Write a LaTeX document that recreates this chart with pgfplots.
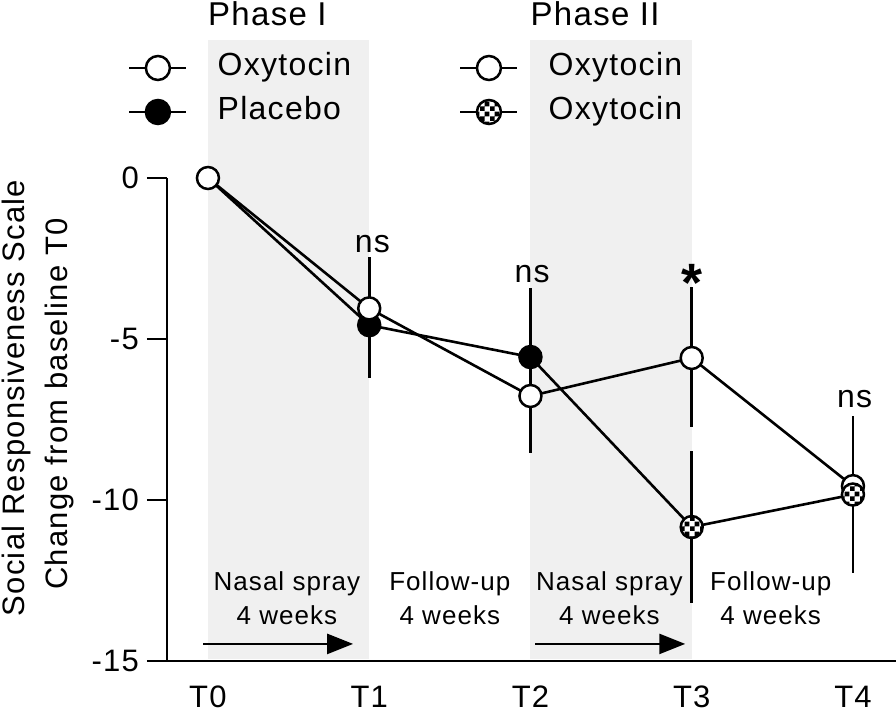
\documentclass[border=0pt]{standalone}
\usepackage{fontspec}
\setmainfont{Liberation Sans}[LetterSpace=4]
\usepackage{pgfplots}
\usepackage{pgfplotstable}
\pgfplotsset{compat=1.18}
\usetikzlibrary{patterns,arrows.meta}

\definecolor{bandgray}{RGB}{240,240,240}

\pgfdeclarepatternformonly{mycheck}{\pgfpointorigin}{\pgfqpoint{10bp}{10bp}}{\pgfqpoint{10bp}{10bp}}{%
  \pgfpathrectangle{\pgfpointorigin}{\pgfqpoint{5bp}{5bp}}%
  \pgfpathrectangle{\pgfqpoint{5bp}{5bp}}{\pgfqpoint{5bp}{5bp}}%
  \pgfusepath{fill}%
}
\pgfdeclareplotmark{checkcirc}{%
  \pgfpathcircle{\pgfpointorigin}{\pgfplotmarksize}%
  \pgfsetfillcolor{white}\pgfusepathqfill
  \pgfpathcircle{\pgfpointorigin}{\pgfplotmarksize}%
  \pgfsetfillpattern{mycheck}{black}\pgfusepathqfill
  \pgfpathcircle{\pgfpointorigin}{\pgfplotmarksize}%
  \pgfusepathqstroke
}

\pgfplotstableread{
x y ep em
0 0 0 0
1 -4.05 1.6 1.6
2 -6.77 1.77 1.77
3 -5.59 2.2 2.14
4 -9.57 2.14 2.14
}\oxy
\pgfplotstableread{
x y ep em
0 0 0 0
1 -4.57 1.63 1.63
2 -5.56 2.14 2.14
3 -10.84 2.35 2.35
4 -9.83 2.45 2.45
}\plac

\newcommand{\fs}[1]{\fontsize{#1}{1.2\dimexpr#1\relax}\selectfont}

\begin{document}
\begin{tikzpicture}
\useasboundingbox (0,0) rectangle (896bp,721bp);
\begin{axis}[
  at={(167bp,60bp)}, anchor=south west,
  x=161.25bp, y=32.2bp,
  xmin=-0.254, xmax=4.27, ymin=-15, ymax=0,
  clip=false,
  axis lines=left,
  axis line style={-, line width=2.8bp},
  xtick={0,1,2,3,4},
  xticklabels={T0,T1,T2,T3,T4},
  ytick={-15,-10,-5,0},
  yticklabels={-15,-10,-5,0},
  xtick style={draw=none},
  ytick style={line width=2.8bp, black},
  major tick length=20bp,
  tick align=outside,
  xticklabel style={font=\fs{31bp}, anchor=base, yshift=-27bp},
  yticklabel style={font=\fs{31bp}, inner sep=0pt, anchor=east, xshift=-8bp},
  legend image code/.code={\draw[mark repeat=2,mark phase=2] plot coordinates {(0bp,0bp)(28.5bp,0bp)(57bp,0bp)};},
  legend columns=2,
  legend cell align=left,
  legend style={draw=none, fill=none, at={(axis cs:-0.515,3.95)}, anchor=north west,
    row sep=14bp, font=\fs{32bp},
    nodes={inner xsep=0pt, inner ysep=0pt, text height=23bp, text depth=7bp},
    /tikz/every odd column/.append style={column sep=30bp},
    /tikz/every even column/.append style={column sep=108bp}},
]
% shaded phases
\addplot[fill=bandgray, draw=none, forget plot] coordinates {(0,-14.95) (0,4.29) (1,4.29) (1,-14.95)} -- cycle;
\addplot[fill=bandgray, draw=none, forget plot] coordinates {(2,-14.95) (2,4.29) (3,4.29) (3,-14.95)} -- cycle;

% error bars
\addplot[black, line width=2.6bp, only marks, mark=none, forget plot, restrict x to domain=1:4,
  error bars/.cd, y dir=both, y explicit, error mark=none, error bar style={line width=2.6bp, black}]
  table[x=x, y=y, y error plus=ep, y error minus=em] {\oxy};
\addplot[black, line width=2.6bp, only marks, mark=none, forget plot, restrict x to domain=1:4,
  error bars/.cd, y dir=both, y explicit, error mark=none, error bar style={line width=2.6bp, black}]
  table[x=x, y=y, y error plus=ep, y error minus=em] {\plac};

% lines
\addplot[black, line width=2.6bp, mark=none, forget plot] table[x=x, y=y] {\oxy};
\addplot[black, line width=2.6bp, mark=none, forget plot] table[x=x, y=y] {\plac};

% markers
\addplot[black, only marks, mark=*, mark size=11bp, mark options={fill=black, line width=2.5bp}, forget plot, restrict x to domain=1:2] table[x=x, y=y] {\plac};
\addplot[black, only marks, mark=*, mark size=11bp, mark options={fill=white, line width=2.5bp}, forget plot] table[x=x, y=y] {\oxy};
\addplot[black, only marks, mark=checkcirc, mark size=11bp, mark options={line width=2.5bp}, forget plot, restrict x to domain=3:4] table[x=x, y=y] {\plac};

% legend
\addlegendimage{black, line width=2.6bp, mark=*, mark size=12bp, mark options={fill=white, line width=2.5bp}}
\addlegendentry{Oxytocin}
\addlegendimage{black, line width=2.6bp, mark=*, mark size=12bp, mark options={fill=white, line width=2.5bp}}
\addlegendentry{Oxytocin}
\addlegendimage{black, line width=2.6bp, mark=*, mark size=12bp, mark options={fill=black, line width=2.5bp}}
\addlegendentry{Placebo}
\addlegendimage{black, line width=2.6bp, mark=checkcirc, mark size=12bp, mark options={line width=2.5bp}}
\addlegendentry{Oxytocin}

% phase titles
\node[anchor=base west, font=\fs{33bp}, inner sep=0pt] at (axis cs:0,4.75) {Phase I};
\node[anchor=base west, font=\fs{33bp}, inner sep=0pt] at (axis cs:2,4.75) {Phase II};

% significance
\node[anchor=base, font=\fs{32bp}, inner sep=0pt] at (axis cs:1.02,-2.30) {ns};
\node[anchor=base, font=\fs{32bp}, inner sep=0pt] at (axis cs:2.01,-3.23) {ns};
\node[anchor=base, font=\bfseries\fs{54bp}, inner sep=0pt] at (axis cs:3.0,-3.85) {*};
\node[anchor=base, font=\fs{32bp}, inner sep=0pt] at (axis cs:4.01,-7.14) {ns};

% period annotations
\node[anchor=base, font=\fs{26bp}, inner sep=0pt] at (axis cs:0.49,-12.8) {Nasal spray};
\node[anchor=base, font=\fs{26bp}, inner sep=0pt] at (axis cs:0.49,-13.88) {4 weeks};
\node[anchor=base, font=\fs{26bp}, inner sep=0pt] at (axis cs:1.5,-12.8) {Follow-up};
\node[anchor=base, font=\fs{26bp}, inner sep=0pt] at (axis cs:1.5,-13.88) {4 weeks};
\node[anchor=base, font=\fs{26bp}, inner sep=0pt] at (axis cs:2.49,-12.8) {Nasal spray};
\node[anchor=base, font=\fs{26bp}, inner sep=0pt] at (axis cs:2.49,-13.88) {4 weeks};
\node[anchor=base, font=\fs{26bp}, inner sep=0pt] at (axis cs:3.49,-12.8) {Follow-up};
\node[anchor=base, font=\fs{26bp}, inner sep=0pt] at (axis cs:3.49,-13.88) {4 weeks};

\draw[line width=2.6bp, -{Triangle[length=26bp,width=20bp]}] (axis cs:-0.03,-14.47) -- (axis cs:0.9,-14.47);
\draw[line width=2.6bp, -{Triangle[length=26bp,width=20bp]}] (axis cs:2.03,-14.47) -- (axis cs:2.96,-14.47);

% y label
\node[rotate=90, anchor=base, font=\fs{31bp}, inner sep=0pt] at (axis cs:-1.135,-6.83) {Social Responsiveness Scale};
\node[rotate=90, anchor=base, font=\fs{31bp}, inner sep=0pt] at (axis cs:-0.874,-7.02) {Change from baseline T0};
\end{axis}
\end{tikzpicture}
\end{document}
